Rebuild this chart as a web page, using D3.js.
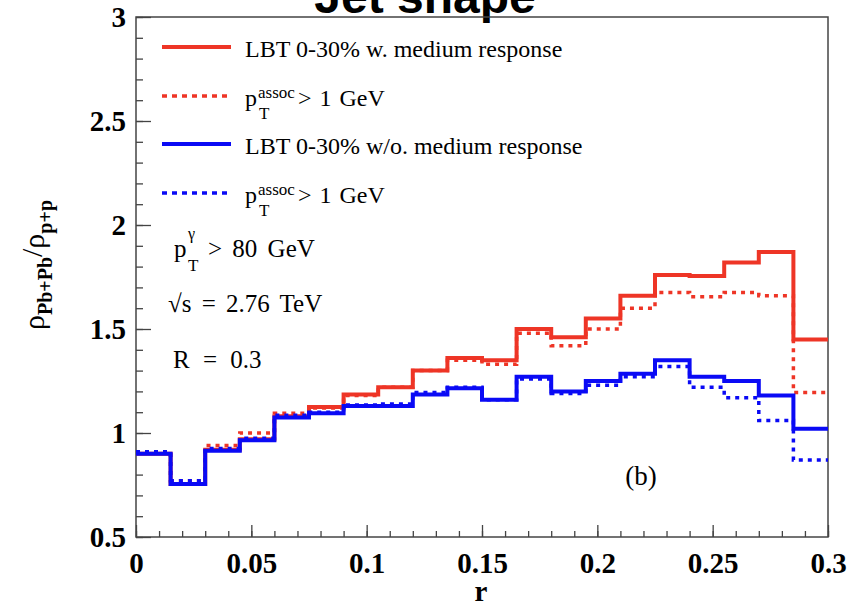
<!DOCTYPE html>
<html>
<head>
<meta charset="utf-8">
<script src="https://cdn.jsdelivr.net/npm/d3@7"></script>
<style>
  body { margin: 0; background: #fff; }
  svg { display: block; }
</style>
</head>
<body>
<script>
// bin edges in r
var rEdges = [0, 0.015, 0.03, 0.045, 0.06, 0.075, 0.09, 0.105, 0.12, 0.135, 0.15,
              0.165, 0.18, 0.195, 0.21, 0.225, 0.24, 0.255, 0.27, 0.285, 0.3];

// LBT 0-30% w. medium response
var redSolid = [0.90, 0.755, 0.92, 0.97, 1.08, 1.125, 1.185, 1.22, 1.30, 1.36,
                1.35, 1.50, 1.46, 1.55, 1.66, 1.76, 1.755, 1.82, 1.87, 1.45];
// same, pT assoc > 1 GeV
var redDot = [0.91, 0.77, 0.94, 1.00, 1.095, 1.12, 1.18, 1.22, 1.30, 1.35,
              1.33, 1.48, 1.42, 1.50, 1.60, 1.675, 1.655, 1.675, 1.66, 1.195];
// LBT 0-30% w/o. medium response
var blueSolid = [0.90, 0.755, 0.915, 0.965, 1.075, 1.095, 1.13, 1.13, 1.185, 1.215,
                 1.16, 1.27, 1.20, 1.25, 1.285, 1.35, 1.27, 1.25, 1.18, 1.02];
// same, pT assoc > 1 GeV
var blueDot = [0.91, 0.77, 0.925, 0.975, 1.085, 1.10, 1.135, 1.14, 1.195, 1.22,
               1.16, 1.26, 1.19, 1.23, 1.27, 1.32, 1.22, 1.17, 1.06, 0.87];

var xMajor = [0, 0.05, 0.1, 0.15, 0.2, 0.25, 0.3];
var xTickLabels = ["0", "0.05", "0.1", "0.15", "0.2", "0.25", "0.3"];
var yMajor = [0.5, 1, 1.5, 2, 2.5, 3];
var yTickLabels = ["0.5", "1", "1.5", "2", "2.5", "3"];

var RED = "#ee3526", BLUE = "#0a0af5";

var width = 856, height = 602;
var svg = d3.select("body").append("svg")
    .attr("width", width)
    .attr("height", height)
    .style("font-family", "'Liberation Serif', 'Times New Roman', serif");

var x = d3.scaleLinear().domain([0, 0.3]).range([136, 828]);
var y = d3.scaleLinear().domain([0.5, 3]).range([537, 17]);

// title, mostly cut off at the top
svg.append("text")
    .attr("x", 425).attr("y", 13)
    .attr("text-anchor", "middle")
    .style("font-family", "'Liberation Sans', Arial, sans-serif")
    .style("font-weight", "bold")
    .style("font-size", "48px")
    .text("Jet shape");

// frame
svg.append("rect")
    .attr("x", x(0)).attr("y", y(3))
    .attr("width", x(0.3) - x(0)).attr("height", y(0.5) - y(3))
    .attr("fill", "none").attr("stroke", "#444").attr("stroke-width", 1.5);

// minor ticks
var xMinor = d3.range(0, 0.3001, 0.01);
var yMinor = d3.range(0.5, 3.001, 0.1);
svg.append("g").attr("transform", "translate(0," + y(0.5) + ")")
    .call(d3.axisBottom(x).tickValues(xMinor).tickSize(-6).tickFormat(""))
    .call(g => g.select(".domain").remove())
    .call(g => g.selectAll("line").attr("stroke", "#444").attr("stroke-width", 1.3));
svg.append("g").attr("transform", "translate(" + x(0) + ",0)")
    .call(d3.axisLeft(y).tickValues(yMinor).tickSize(-7).tickFormat(""))
    .call(g => g.select(".domain").remove())
    .call(g => g.selectAll("line").attr("stroke", "#444").attr("stroke-width", 1.3));

// major ticks + labels
svg.append("g").attr("transform", "translate(0," + y(0.5) + ")")
    .call(d3.axisBottom(x).tickValues(xMajor).tickSize(-12).tickPadding(15)
        .tickFormat((d, i) => xTickLabels[i]))
    .call(g => g.select(".domain").remove())
    .call(g => g.selectAll("line").attr("stroke", "#444").attr("stroke-width", 1.3))
    .call(g => g.selectAll("text").attr("fill", "#000")
        .style("font-family", "'Liberation Serif', serif")
        .style("font-weight", "bold").style("font-size", "29px"));
svg.append("g").attr("transform", "translate(" + x(0) + ",0)")
    .call(d3.axisLeft(y).tickValues(yMajor).tickSize(-15).tickPadding(10)
        .tickFormat((d, i) => yTickLabels[i]))
    .call(g => g.select(".domain").remove())
    .call(g => g.selectAll("line").attr("stroke", "#444").attr("stroke-width", 1.3))
    .call(g => g.selectAll("text").attr("fill", "#000")
        .style("font-family", "'Liberation Serif', serif")
        .style("font-weight", "bold").style("font-size", "29px"));

// axis titles
svg.append("text")
    .attr("x", 481).attr("y", 601)
    .attr("text-anchor", "middle")
    .style("font-weight", "bold").style("font-size", "29px")
    .text("r");

var yt = svg.append("text")
    .attr("transform", "translate(44,265) rotate(-90)")
    .attr("text-anchor", "middle")
    .style("font-size", "30px");
yt.append("tspan").text("ρ");
yt.append("tspan").attr("dy", 8).style("font-size", "20px").style("font-weight", "bold").text("Pb+Pb");
yt.append("tspan").attr("dy", -10).text("/");
yt.append("tspan").attr("dy", 2).text("ρ");
yt.append("tspan").attr("dy", 8).style("font-size", "20px").style("font-weight", "bold").text("p+p");

// histograms
function stepPoints(vals) {
    var pts = vals.map((v, i) => [rEdges[i], v]);
    pts.push([rEdges[rEdges.length - 1], vals[vals.length - 1]]);
    return pts;
}
var line = d3.line()
    .x(d => x(d[0]))
    .y(d => y(d[1]))
    .curve(d3.curveStepAfter);

var series = [
    {vals: redSolid, color: RED, dash: null},
    {vals: redDot, color: RED, dash: "4,5"},
    {vals: blueSolid, color: BLUE, dash: null},
    {vals: blueDot, color: BLUE, dash: "4,5"}
];

svg.append("g").selectAll("path")
    .data(series)
    .enter()
    .append("path")
    .attr("d", d => line(stepPoints(d.vals)))
    .attr("fill", "none")
    .attr("stroke", d => d.color)
    .attr("stroke-width", d => d.dash ? 3.5 : 4)
    .attr("stroke-dasharray", d => d.dash);

// legend
var legendRows = [
    {y: 47, color: RED, dash: null, label: "LBT 0-30% w. medium response"},
    {y: 96, color: RED, dash: "5,5", label: null},
    {y: 144, color: BLUE, dash: null, label: "LBT 0-30% w/o. medium response"},
    {y: 193, color: BLUE, dash: "5,5", label: null}
];
var leg = svg.append("g");
legendRows.forEach(function(r) {
    leg.append("line")
        .attr("x1", 162).attr("x2", 231)
        .attr("y1", r.y).attr("y2", r.y)
        .attr("stroke", r.color)
        .attr("stroke-width", r.dash ? 3.5 : 4)
        .attr("stroke-dasharray", r.dash);
    if (r.label) {
        leg.append("text")
            .attr("x", 245).attr("y", r.y + 10)
            .style("font-size", "24px")
            .text(r.label);
    } else {
        leg.append("text").attr("x", 245).attr("y", r.y + 10)
            .style("font-size", "24px").text("p");
        leg.append("text").attr("x", 258).attr("y", r.y + 2)
            .style("font-size", "17px").text("assoc");
        leg.append("text").attr("x", 259).attr("y", r.y + 23)
            .style("font-size", "17px").text("T");
        leg.append("text").attr("x", 298).attr("y", r.y + 10)
            .style("font-size", "24px").style("word-spacing", "2px").text("> 1 GeV");
    }
});

// annotations
var ann = svg.append("g").style("font-size", "25px").style("word-spacing", "4px");
ann.append("text").attr("x", 174).attr("y", 257).text("p");
ann.append("text").attr("x", 188).attr("y", 239).style("font-size", "16px").text("γ");
ann.append("text").attr("x", 188).attr("y", 271).style("font-size", "17px").text("T");
ann.append("text").attr("x", 208).attr("y", 257).text("> 80 GeV");
ann.append("text").attr("x", 168).attr("y", 312).text("√s = 2.76 TeV");
ann.append("text").attr("x", 173).attr("y", 368).style("word-spacing", "7px").text("R = 0.3");
ann.append("text").attr("x", 641).attr("y", 485).attr("text-anchor", "middle")
    .style("font-size", "27px").text("(b)");
</script>
</body>
</html>
